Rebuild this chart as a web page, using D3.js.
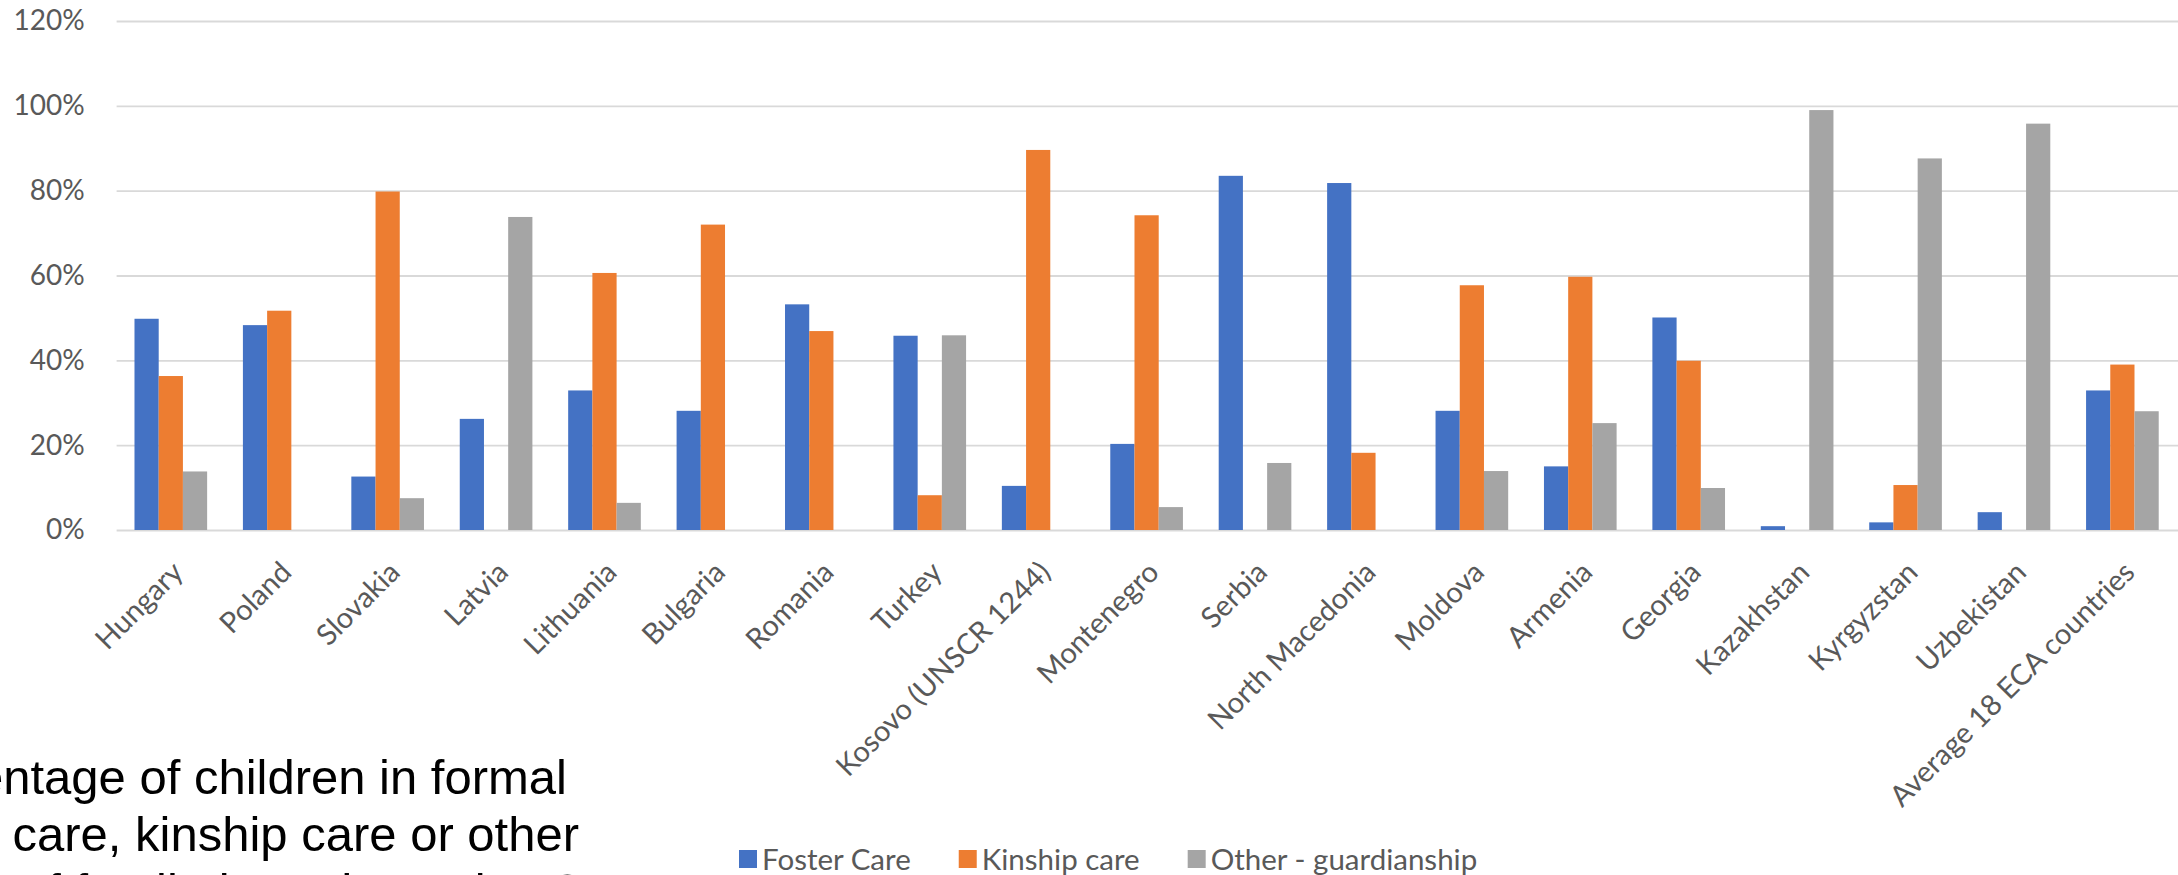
<!DOCTYPE html>
<html>
<head>
<meta charset="utf-8">
<script src="https://cdn.jsdelivr.net/npm/d3@7"></script>
<style>
  html, body { margin: 0; padding: 0; background: #fff; overflow: hidden; }
  svg { display: block; }
</style>
</head>
<body>
<svg id="chart" width="2178" height="875"></svg>
<script>
// Care arrangements of children in formal family-based care, by country (%)
const categories = [
  "Hungary", "Poland", "Slovakia", "Latvia", "Lithuania", "Bulgaria", "Romania",
  "Turkey", "Kosovo (UNSCR 1244)", "Montenegro", "Serbia", "North Macedonia",
  "Moldova", "Armenia", "Georgia", "Kazakhstan", "Kyrgyzstan", "Uzbekistan",
  "Average 18 ECA countries"
];
const seriesNames = ["Foster Care", "Kinship care", "Other - guardianship"];
const fosterCare   = [49.8, 48.3, 12.6, 26.2, 32.9, 28.1, 53.2, 45.8, 10.4, 20.3, 83.5, 81.8, 28.1, 15.0, 50.1, 0.9, 1.8, 4.2, 32.9];
const kinshipCare  = [36.3, 51.7, 79.8, null, 60.6, 72.0, 46.9, 8.2, 89.6, 74.2, null, 18.2, 57.7, 59.7, 39.9, null, 10.6, null, 39.0];
const guardianship = [13.8, null, 7.5, 73.8, 6.4, null, null, 45.9, null, 5.4, 15.8, null, 13.9, 25.2, 9.9, 99.0, 87.6, 95.8, 28.0];
const yTicks = [0, 20, 40, 60, 80, 100, 120];
const noteLines = [
  "Percentage of children in formal",
  "foster care, kinship care or other",
  "types of family-based care in 18"
];

const seriesValues = [fosterCare, kinshipCare, guardianship];
const colors = ["#4472C4", "#ED7D31", "#A5A5A5"];
const textColor = "#595959";
const uiFont = "Lato, 'Open Sans', sans-serif";

const svg = d3.select("#chart");

const plot = { left: 116.6, right: 2176.6, top: 21, bottom: 530 };

const y = d3.scaleLinear().domain([0, 120]).range([plot.bottom, plot.top]);
const x0 = d3.scaleBand().domain(categories).range([plot.left, plot.right])
  .paddingInner(0.33).paddingOuter(0.165);
const x1 = d3.scaleBand().domain(seriesNames).range([0, x0.bandwidth()]);
const color = d3.scaleOrdinal().domain(seriesNames).range(colors);

// Horizontal gridlines + y-axis labels via a left axis
const yAxis = d3.axisLeft(y).tickValues(yTicks).tickFormat(d => d + "%")
  .tickSize(-(2178 - plot.left)).tickPadding(32);
const gy = svg.append("g").attr("transform", `translate(${plot.left},0)`).call(yAxis);
gy.select(".domain").remove();
gy.selectAll(".tick line").attr("stroke", "#d9d9d9").attr("stroke-width", 1.8);
gy.selectAll(".tick text")
  .attr("fill", textColor)
  .style("font-family", uiFont)
  .style("font-size", "28px");

// Grouped bars
const rows = categories.map((c, i) => ({
  category: c,
  values: seriesNames.map((s, k) => ({ series: s, value: seriesValues[k][i] }))
}));

const groups = svg.append("g").selectAll("g")
  .data(rows).join("g")
  .attr("transform", d => `translate(${x0(d.category)},0)`);

groups.selectAll("rect")
  .data(d => d.values.filter(v => v.value != null))
  .join("rect")
  .attr("x", d => x1(d.series))
  .attr("width", x1.bandwidth())
  .attr("y", d => y(d.value))
  .attr("height", d => y(0) - y(d.value))
  .attr("fill", d => color(d.series));

// Category labels, rotated
const xAxisG = svg.append("g");
xAxisG.selectAll("text")
  .data(categories).join("text")
  .attr("transform", d => `translate(${x0(d) + x0.bandwidth() / 2 + 14},${plot.bottom + 44}) rotate(-45)`)
  .attr("text-anchor", "end")
  .attr("fill", textColor)
  .style("font-family", uiFont)
  .style("font-size", "29px")
  .text(d => d);

// Legend
const legend = svg.append("g").attr("transform", "translate(739,850)");
let lx = 0;
seriesNames.forEach((s, k) => {
  const item = legend.append("g").attr("transform", `translate(${lx},0)`);
  item.append("rect").attr("width", 18).attr("height", 18).attr("fill", colors[k]);
  const t = item.append("text")
    .attr("x", 23).attr("y", 9).attr("dy", "0.36em")
    .attr("fill", textColor)
    .style("font-family", uiFont)
    .style("font-size", "29.5px")
    .text(s);
  lx += 23 + t.node().getComputedTextLength() + 48;
});

// Slide caption text (partially cut off at the left and bottom edges)
const noteEnds = [567, 579, 581];
const noteBase = [794, 851, 908];
svg.append("g").selectAll("text")
  .data(noteLines).join("text")
  .attr("x", (d, i) => noteEnds[i])
  .attr("y", (d, i) => noteBase[i])
  .attr("text-anchor", "end")
  .attr("fill", "#000")
  .style("font-family", "'Liberation Sans', Arial, sans-serif")
  .style("font-size", "49px")
  .text(d => d);
</script>
</body>
</html>
